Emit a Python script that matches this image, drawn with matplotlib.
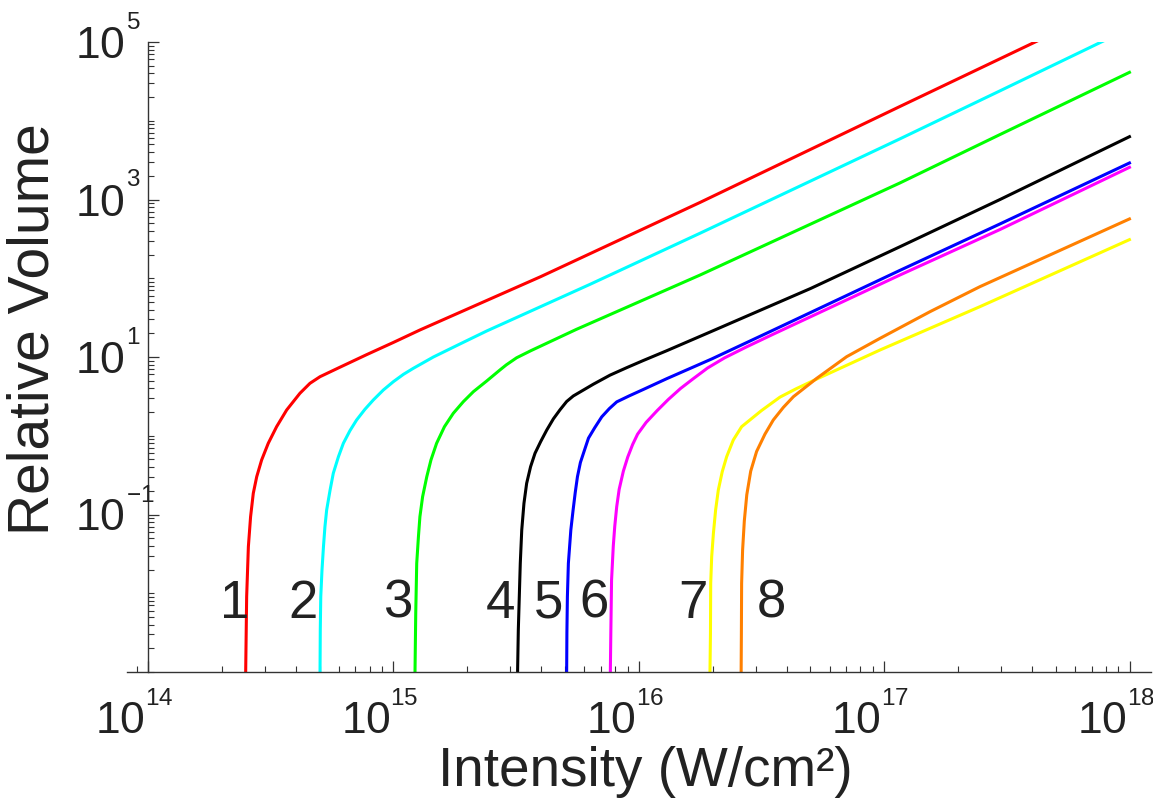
import matplotlib
matplotlib.use("Agg")
import numpy as np
import matplotlib.pyplot as plt
from matplotlib.ticker import LogLocator, NullFormatter, FixedLocator
from matplotlib.transforms import blended_transform_factory, offset_copy

plt.rcParams['font.family'] = ['Liberation Sans', 'DejaVu Sans']
plt.rcParams['mathtext.fontset'] = 'custom'
plt.rcParams['mathtext.rm'] = 'Liberation Sans'
plt.rcParams['mathtext.it'] = 'Liberation Sans:italic'
plt.rcParams['mathtext.bf'] = 'Liberation Sans:bold'

# ---- data: log10(intensity in W/cm^2), log10(relative volume) ----
logI_1 = [14.398, 14.402, 14.409, 14.418, 14.429, 14.443, 14.463, 14.490, 14.524, 14.565, 14.619,
          14.660, 14.701, 14.782, 14.891, 15.000, 15.108, 15.600, 16.249, 17.064, 17.628]
logV_1 = [-3.0, -2.043, -1.408, -1.028, -0.731, -0.520, -0.308, -0.096, 0.115, 0.327, 0.539,
          0.666, 0.750, 0.870, 1.030, 1.185, 1.343, 2.020, 2.962, 4.181, 5.019]

logI_2 = [14.701, 14.702, 14.704, 14.709, 14.715, 14.721, 14.728, 14.742, 14.755, 14.776, 14.796,
          14.823, 14.850, 14.884, 14.918, 14.959, 15.000, 15.041, 15.081, 15.163, 15.271, 15.380,
          15.800, 16.249, 17.064, 17.472, 17.896]
logV_2 = [-3.0, -2.467, -2.043, -1.705, -1.408, -1.155, -0.943, -0.689, -0.477, -0.266, -0.096,
          0.065, 0.200, 0.336, 0.454, 0.581, 0.687, 0.780, 0.856, 1.000, 1.165, 1.330,
          1.921, 2.571, 3.770, 4.380, 5.017]

logI_3 = [15.088, 15.091, 15.095, 15.102, 15.108, 15.119, 15.136, 15.153, 15.176, 15.208, 15.244,
          15.285, 15.326, 15.380, 15.434, 15.460, 15.502, 15.560, 15.745, 16.249, 17.064, 17.472, 18.005]
logV_3 = [-3.0, -2.255, -1.620, -1.281, -1.028, -0.774, -0.520, -0.308, -0.096, 0.115, 0.285,
          0.433, 0.560, 0.695, 0.835, 0.900, 0.990, 1.080, 1.350, 2.040, 3.210, 3.825, 4.623]

logI_4 = [15.506, 15.509, 15.513, 15.517, 15.523, 15.532, 15.543, 15.559, 15.577, 15.600, 15.625,
          15.652, 15.679, 15.706, 15.733, 15.774, 15.815, 15.883, 15.951, 16.018, 16.114, 16.300,
          16.700, 17.064, 17.472, 18.005]
logV_4 = [-3.0, -2.467, -2.043, -1.620, -1.197, -0.858, -0.604, -0.393, -0.223, -0.075, 0.073,
          0.215, 0.330, 0.435, 0.505, 0.580, 0.655, 0.770, 0.865, 0.955, 1.080, 1.330,
          1.870, 2.400, 3.000, 3.806]

logI_5 = [15.706, 15.707, 15.709, 15.713, 15.723, 15.732, 15.741, 15.750, 15.762, 15.780, 15.795,
          15.820, 15.849, 15.880, 15.910, 15.960, 16.020, 16.114, 16.297, 16.540, 17.064, 17.472, 18.005]
logV_5 = [-3.0, -2.5, -2.043, -1.620, -1.197, -0.950, -0.720, -0.520, -0.340, -0.170, -0.030,
          0.100, 0.240, 0.345, 0.430, 0.505, 0.590, 0.725, 0.975, 1.330, 2.100, 2.690, 3.472]

logI_6 = [15.884, 15.886, 15.889, 15.896, 15.902, 15.910, 15.920, 15.937, 15.955, 15.975, 15.995,
          16.030, 16.075, 16.120, 16.170, 16.220, 16.280, 16.350, 16.440, 16.548, 17.064, 17.472, 18.005]
logV_6 = [-3.0, -2.5, -1.832, -1.400, -1.150, -0.900, -0.680, -0.450, -0.270, -0.110, 0.020,
          0.170, 0.320, 0.460, 0.600, 0.720, 0.860, 0.990, 1.130, 1.290, 2.041, 2.619, 3.417]

logI_7 = [16.290, 16.292, 16.293, 16.297, 16.304, 16.313, 16.324, 16.340, 16.358, 16.385, 16.419,
          16.500, 16.575, 16.640, 16.711, 16.983, 17.390, 18.005]
logV_7 = [-3.0, -2.509, -1.874, -1.536, -1.239, -0.943, -0.689, -0.456, -0.266, -0.054, 0.115,
          0.320, 0.490, 0.595, 0.700, 1.089, 1.639, 2.498]

logI_8 = [16.417, 16.418, 16.419, 16.423, 16.430, 16.440, 16.456, 16.480, 16.514, 16.548, 16.589,
          16.630, 16.725, 16.847, 16.983, 17.187, 17.390, 18.005]
logV_8 = [-3.0, -2.509, -1.874, -1.451, -1.080, -0.750, -0.450, -0.200, 0.020, 0.200, 0.360,
          0.496, 0.729, 1.004, 1.237, 1.576, 1.893, 2.761]

series_logI = [logI_1, logI_2, logI_3, logI_4, logI_5, logI_6, logI_7, logI_8]
series_logV = [logV_1, logV_2, logV_3, logV_4, logV_5, logV_6, logV_7, logV_8]
colors = ['#FF0000', '#00FFFF', '#00FF00', '#000000', '#0000FF', '#FF00FF', '#FFFF00', '#FF8000']

curve_labels = ['1', '2', '3', '4', '5', '6', '7', '8']
label_logI = [14.3545, 14.6316, 15.0188, 15.4373, 15.6341, 15.8174, 16.2209, 16.5387]
label_logV = -2.1365

x_ticks = [1e14, 1e15, 1e16, 1e17, 1e18]
x_exponents = ['14', '15', '16', '17', '18']
y_ticks = [1e-1, 1e1, 1e3, 1e5]
y_exponents = ['-1', '1', '3', '5']

# ---- figure ----
W, H = 1153, 802
fig = plt.figure(figsize=(W / 100, H / 100), dpi=100)
ax_left, ax_right, ax_bottom, ax_top = 127, 1151, 672, 42
ax = fig.add_axes([ax_left / W, (H - ax_bottom) / H, (ax_right - ax_left) / W, (ax_bottom - ax_top) / H])

for li, lv, c in zip(series_logI, series_logV, colors):
    ax.plot(np.power(10.0, li), np.power(10.0, lv), color=c, lw=2.2,
            solid_capstyle='butt', solid_joinstyle='round')

ax.set_xscale('log')
ax.set_yscale('log')
ax.set_xlim(10 ** 13.9144, 10 ** 18.0872)
ax.set_ylim(1e-3, 1e5)

for s in ['top', 'right']:
    ax.spines[s].set_visible(False)
ax.spines['left'].set_position(('data', 1e14))
for s in ['left', 'bottom']:
    ax.spines[s].set_color('#333333')
    ax.spines[s].set_linewidth(1.0)

ax.xaxis.set_major_locator(FixedLocator(x_ticks))
ax.xaxis.set_major_formatter(NullFormatter())
ax.xaxis.set_minor_locator(LogLocator(base=10, subs=range(2, 10), numticks=20))
ax.xaxis.set_minor_formatter(NullFormatter())

ax.yaxis.set_major_locator(FixedLocator(y_ticks))
ax.yaxis.set_major_formatter(NullFormatter())
ax.yaxis.set_minor_locator(LogLocator(base=10, subs=range(1, 10), numticks=20))
ax.yaxis.set_minor_formatter(NullFormatter())

ax.tick_params(axis='both', which='major', direction='in', length=8, width=0.9, color='#333333')
ax.tick_params(axis='both', which='minor', direction='in', length=4, width=0.8, color='#333333')

txt_color = '#222222'
base_fs, exp_fs = 32, 17.5


def mt(s):
    return r'$\mathregular{' + s + '}$'


# x tick labels: "10" with a raised exponent
bx = blended_transform_factory(ax.transData, ax.transAxes)
for t, e in zip(x_ticks, x_exponents):
    ax.text(t, 0, mt('10'), transform=offset_copy(bx, fig=fig, x=-3, y=-61, units='dots'),
            ha='right', va='baseline', fontsize=base_fs, color=txt_color, clip_on=False)
    ax.text(t, 0, mt(e), transform=offset_copy(bx, fig=fig, x=-3, y=-33, units='dots'),
            ha='left', va='baseline', fontsize=exp_fs, color=txt_color, clip_on=False)

# y tick labels
by = blended_transform_factory(ax.transData, ax.transData)
for t, e in zip(y_ticks, y_exponents):
    ax.text(1e14, t, mt('10'), transform=offset_copy(by, fig=fig, x=-23, y=-16, units='dots'),
            ha='right', va='baseline', fontsize=base_fs, color=txt_color, clip_on=False)
    ax.text(1e14, t, mt(e), transform=offset_copy(by, fig=fig, x=-22, y=13, units='dots'),
            ha='left', va='baseline', fontsize=exp_fs, color=txt_color, clip_on=False)

for t, li in zip(curve_labels, label_logI):
    ax.text(10 ** li, 10 ** label_logV, t, fontsize=38, color=txt_color, ha='center', va='center')

fig.text(645 / W, 1 - 786 / H, 'Intensity (W/cm\u00b2)', fontsize=39.5,
         color=txt_color, ha='center', va='baseline')
fig.text(34 / W, 1 - 329 / H, 'Relative Volume', fontsize=41, color=txt_color,
         ha='center', va='center', rotation=90)

fig.savefig('out.png', dpi=100)
